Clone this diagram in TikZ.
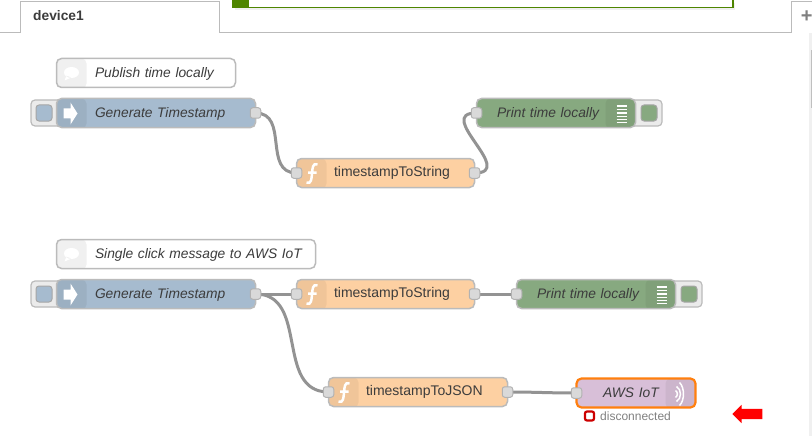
\documentclass[tikz,border=0pt]{standalone}
\usepackage{fontspec}
\setmainfont{Liberation Sans}
\usetikzlibrary{shapes.arrows, backgrounds}
\definecolor{injectBlue}{HTML}{A6BBCF}
\definecolor{funcOrange}{HTML}{FDD0A2}
\definecolor{debugGreen}{HTML}{87A980}
\definecolor{awsPurple}{HTML}{D8BFD8}
\definecolor{awsOrange}{HTML}{FF7F0E}
\definecolor{wireGrey}{HTML}{939393}
\definecolor{borderGrey}{HTML}{BBBBBB}
\definecolor{textGrey}{HTML}{3C3C3C}
\definecolor{noticeGreen}{HTML}{4E8500}
\newcommand{\bodyfont}{\fontsize{13.8}{16}\selectfont}
\tikzset{font=\bodyfont}
\tikzstyle{flownode} = [rectangle, rounded corners=5pt, anchor=north west, minimum height=29pt,%
outer sep=0pt, xshift=0.5pt, yshift=-0.5pt, inner xsep=0pt, inner ysep=0pt, align=left,%
text=textGrey, draw=borderGrey, line width=1.5pt]
\tikzstyle{slanted} = [font=\bodyfont\itshape, text height=12pt, text depth=3pt]
\tikzstyle{injectnode} = [flownode, slanted, fill=injectBlue, path picture={
  \fill[black,opacity=0.06] (path picture bounding box.north west) rectangle ++(30,30);}]
\tikzstyle{funcnode} = [flownode, fill=funcOrange, font=\fontsize{14}{16}\selectfont, path picture={
  \fill[black,opacity=0.05] (path picture bounding box.north west) rectangle ++(30,30);}]
\tikzstyle{debugnode} = [flownode, slanted, fill=debugGreen, path picture={
  \fill[black,opacity=0.05] (path picture bounding box.north east) rectangle ++(-30,30);}]
\tikzstyle{awsnode} = [flownode, slanted, fill=awsPurple, draw=awsOrange, line width=2.2pt, path picture={
  \fill[black,opacity=0.05] (path picture bounding box.north east) rectangle ++(-30,30);}]
\tikzstyle{commentnode} = [flownode, slanted, fill=white, path picture={
  \fill[black!6] (path picture bounding box.north west) rectangle ++(30,30);}]
\tikzstyle{button} = [rectangle, rounded corners=4pt, anchor=north west, minimum height=26pt,%
inner sep=0pt, outer sep=0pt, fill=black!8, draw=borderGrey, line width=1.2pt]
\tikzstyle{buttonface} = [rectangle, rounded corners=3pt, minimum width=16pt, minimum height=16pt,%
inner sep=0pt, draw=black!35, line width=1pt]
\tikzstyle{port} = [rectangle, rounded corners=2.5pt, minimum width=10.5pt, minimum height=10.5pt,%
inner sep=0pt, fill=black!15, draw=black!30, line width=1pt]
\tikzstyle{wire} = [wireGrey, line width=3pt]
% icons, drawn from a corner of the node
\newcommand{\iconInject}[1]{\fill[white,shift={(#1.north west)}] (7,10) -- (14,10) -- (14,4) -- (21,15) -- (14,26) -- (14,20) -- (7,20) -- cycle;}
\newcommand{\iconFunc}[1]{\draw[white,line width=2.5pt,shift={(#1.north west)}] (21,6) .. controls (16,4) and (16,10) .. (15.5,15) .. controls (15,20) and (15,26) .. (10,24) (11.5,14) -- (20,14);}
\newcommand{\iconDebug}[1]{\draw[white,line width=1.3pt,shift={(#1.north east)}] (-19,7.5) -- (-9,7.5) (-19,11) -- (-9,11) (-19,14.5) -- (-9,14.5) (-19,18) -- (-9,18) (-19,21) -- (-9,21) (-19,24) -- (-9,24);}
\newcommand{\iconAws}[1]{\draw[white,line width=1.5pt,shift={(#1.north east)}] (-20,12) .. controls (-17.5,14) and (-17.5,17) .. (-20,19) (-19,8) .. controls (-13.7,11) and (-13.7,20) .. (-19,23) (-16,4) .. controls (-10.7,9) and (-10.7,22) .. (-16,27);}
\newcommand{\iconComment}[1]{\fill[white,shift={(#1.north west)}] (15,14) ellipse (7.5 and 5.5) (10,17) -- (8,22) -- (15,19) -- cycle;}
\begin{document}
\begin{tikzpicture}[x=1pt,y=-1pt]
    \useasboundingbox (0,0) rectangle (812,436);

    % top of the workspace
    \fill[black!6] (235,3) rectangle (735,10);
    \node (notice) [rectangle, anchor=south west, minimum width=500pt, minimum height=20pt, inner sep=0pt, outer sep=0pt, fill=white, draw=noticeGreen, line width=1.2pt] at (233,7.5) {};
    \fill[noticeGreen] (233,-12) rectangle (249,7.5);
    \fill[black!6] (809,33) rectangle (812,436);
    \fill[black!25] (811,50) rectangle (812,108);
    \draw[borderGrey, line width=1pt] (0,32.5) -- (20.5,32.5) -- (20.5,1.5) -- (219.5,1.5) -- (219.5,32.5) -- (791.5,32.5) -- (791.5,1.5) -- (812,1.5);
    \node (tab) [anchor=west, inner sep=0pt, font=\bodyfont\bfseries, text=textGrey] at (33,16) {device1};
    \node (addTab) [inner sep=0pt, font=\fontsize{20}{20}\bfseries, text=black!50] at (806.7,17) {+};

    % first flow
    \node (note1) [commentnode, text width=179pt] at (56,58) {\hspace*{38.5pt}Publish time locally};
    \iconComment{note1}
    \node (btnInject1) [button, minimum width=40pt] at (31,100) {};
    \node (faceInject1) [buttonface, fill=injectBlue] at (44,113) {};
    \node (inject1) [injectnode, text width=199pt] at (56,98) {\hspace*{38.5pt}Generate Timestamp};
    \iconInject{inject1}
    \node (func1) [funcnode, text width=178pt] at (296,158) {\hspace*{37.5pt}timestampToString};
    \iconFunc{func1}
    \node (btnDebug1) [button, minimum width=40pt] at (622,100) {};
    \node (faceDebug1) [buttonface, fill=debugGreen] at (649,113) {};
    \node (debug1) [debugnode, text width=159pt] at (476,98) {\hspace*{20.5pt}Print time locally};
    \iconDebug{debug1}

    % second flow
    \node (note2) [commentnode, text width=259pt] at (56,239) {\hspace*{38.5pt}Single click message to AWS IoT};
    \iconComment{note2}
    \node (btnInject2) [button, minimum width=40pt] at (31,281) {};
    \node (faceInject2) [buttonface, fill=injectBlue] at (44,294) {};
    \node (inject2) [injectnode, text width=199pt] at (56,279) {\hspace*{38.5pt}Generate Timestamp};
    \iconInject{inject2}
    \node (func2) [funcnode, text width=178pt] at (296,279) {\hspace*{37.5pt}timestampToString};
    \iconFunc{func2}
    \node (btnDebug2) [button, minimum width=40pt] at (662,281) {};
    \node (faceDebug2) [buttonface, fill=debugGreen] at (689,294) {};
    \node (debug2) [debugnode, text width=159pt] at (516,279) {\hspace*{20.5pt}Print time locally};
    \iconDebug{debug2}
    \node (func3) [funcnode, text width=179pt] at (328,377) {\hspace*{37.5pt}timestampToJSON};
    \iconFunc{func3}
    \node (aws) [awsnode, text width=119pt] at (576,378) {\hspace*{26.5pt}AWS IoT};
    \iconAws{aws}

    \node (status) [rectangle, rounded corners=2pt, minimum width=9pt, minimum height=9pt, inner sep=0pt, fill=white, draw=red!80!black, line width=2.2pt] at (589.5,416) {};
    \node (statusText) [anchor=west, inner sep=0pt, font=\fontsize{12}{14}\selectfont, text=black!50] at (600,416) {disconnected};
    \node (marker) [single arrow, shape border rotate=180, fill=red, inner sep=5pt, minimum width=18pt, minimum height=30pt, single arrow head extend=4pt] at (750,414) {};

    % ports
    \node (outInject1) [port] at (inject1.east) {};
    \node (inFunc1) [port] at (func1.west) {};
    \node (outFunc1) [port] at (func1.east) {};
    \node (inDebug1) [port] at (debug1.west) {};
    \node (outInject2) [port] at (inject2.east) {};
    \node (inFunc2) [port] at (func2.west) {};
    \node (outFunc2) [port] at (func2.east) {};
    \node (inDebug2) [port] at (debug2.west) {};
    \node (inFunc3) [port] at (func3.west) {};
    \node (outFunc3) [port] at (func3.east) {};
    \node (inAws) [port] at (aws.west) {};

    \begin{pgfonlayer}{background}
    \draw [wire] (outInject1.center) .. controls +(34,0) and +(-34,0) .. (inFunc1.center);
    \draw [wire] (outFunc1.center) .. controls +(43,0) and +(-43,0) .. (inDebug1.center);
    \draw [wire] (outInject2.center) -- (inFunc2.center);
    \draw [wire] (outFunc2.center) -- (inDebug2.center);
    \draw [wire] (outInject2.center) .. controls +(54,0) and +(-54,0) .. (inFunc3.center);
    \draw [wire] (outFunc3.center) .. controls +(30,0) and +(-30,0) .. (inAws.center);
    \end{pgfonlayer}
\end{tikzpicture}
\end{document}
